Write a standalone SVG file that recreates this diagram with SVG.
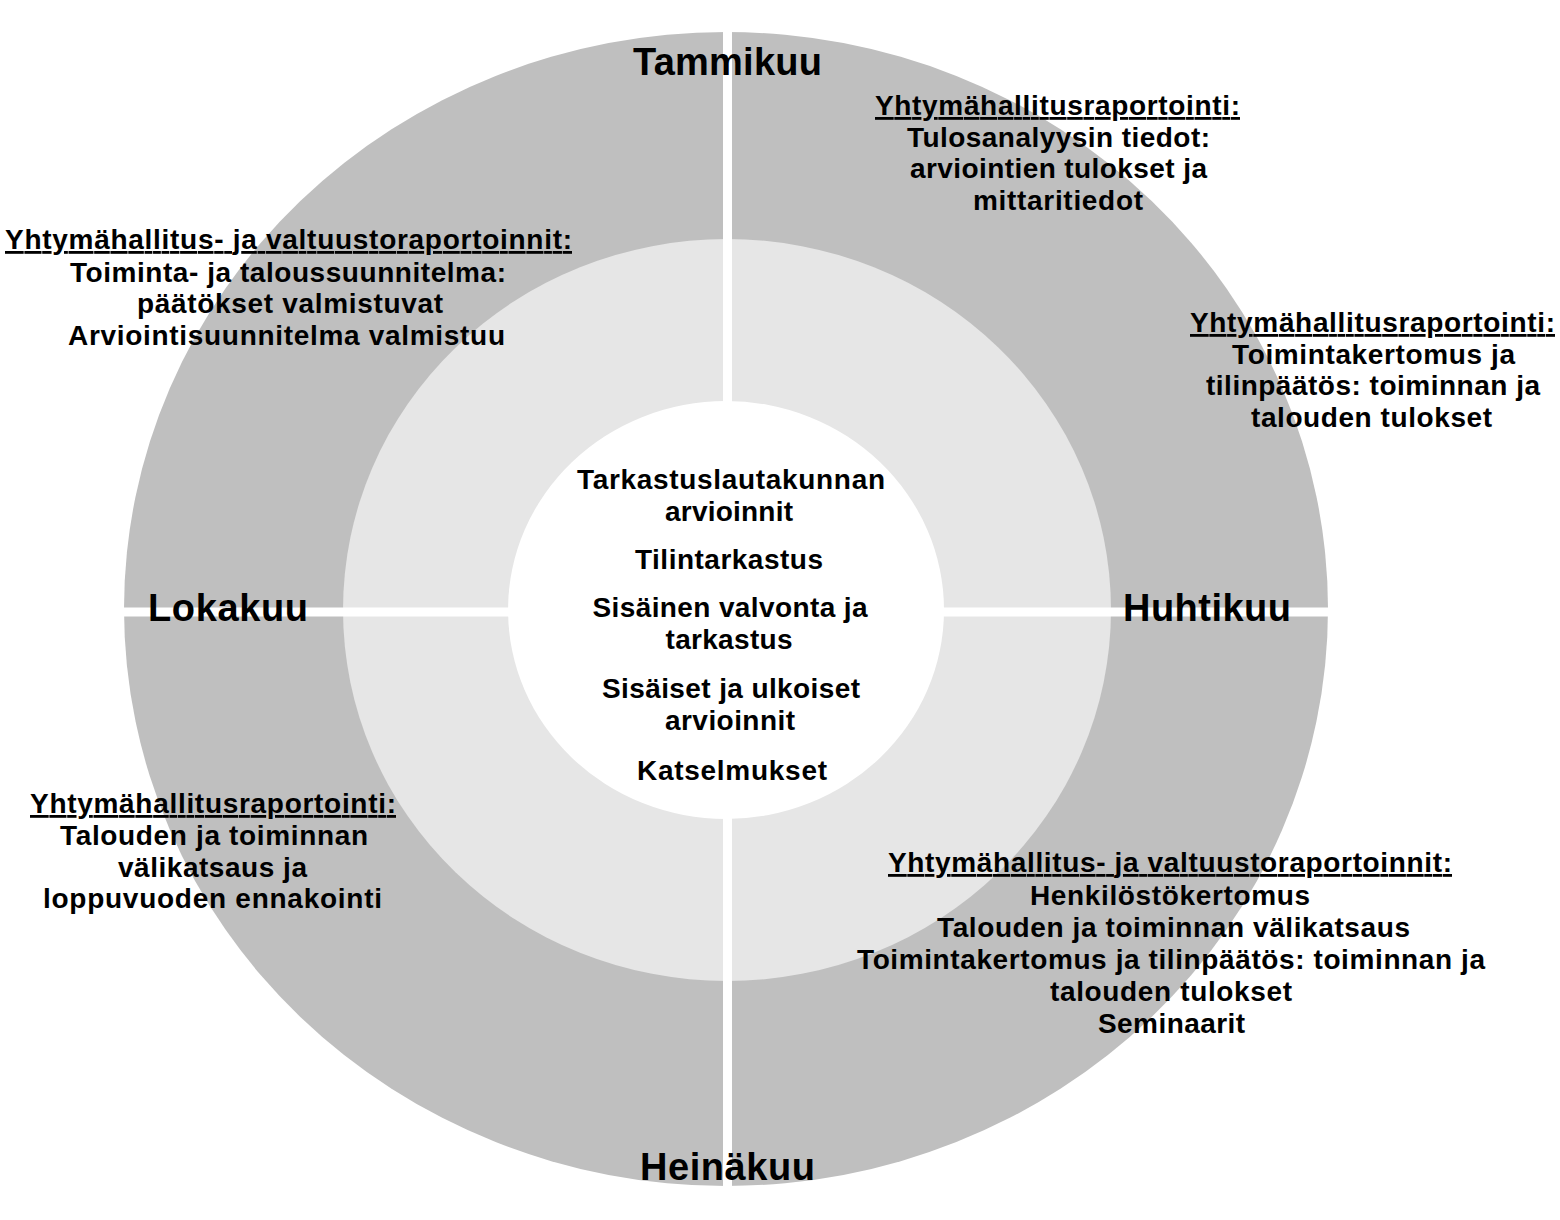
<svg xmlns="http://www.w3.org/2000/svg" width="1560" height="1220" viewBox="0 0 1560 1220">
<style>
.t{font-family:"Liberation Sans",Arial,sans-serif;font-weight:bold;font-size:28px;fill:#000;text-anchor:middle}
.h{text-decoration:underline}
.m{font-family:"Liberation Sans",Arial,sans-serif;font-weight:bold;font-size:38px;fill:#000;text-anchor:middle}
.div{stroke:#fff;stroke-width:9;fill:none}
</style>
<rect width="1560" height="1220" fill="#fff"/>
<g id="rings">
<ellipse id="outer-ring" cx="726" cy="609" rx="602" ry="577" fill="#bfbfbf"/>
<ellipse id="middle-ring" cx="727" cy="610" rx="384" ry="371" fill="#e6e6e6"/>
<ellipse id="center-circle" cx="726" cy="610" rx="218" ry="209" fill="#fff"/>
</g>
<g id="connectors">
<line class="div" x1="727.5" y1="0" x2="727.5" y2="1220"/>
<line class="div" x1="90" y1="612" x2="1335" y2="612"/>
</g>
<g id="center-text">
<text class="t" x="731" y="489" textLength="308">Tarkastuslautakunnan</text>
<text class="t" x="729" y="521" textLength="128">arvioinnit</text>
<text class="t" x="729" y="569" textLength="188">Tilintarkastus</text>
<text class="t" x="730" y="617" textLength="275">Sisäinen valvonta ja</text>
<text class="t" x="729" y="649" textLength="127">tarkastus</text>
<text class="t" x="731" y="698" textLength="258">Sisäiset ja ulkoiset</text>
<text class="t" x="730" y="730" textLength="130">arvioinnit</text>
<text class="t" x="732" y="780" textLength="190">Katselmukset</text>
</g>
<g id="month-tammikuu"><text class="m" x="727.5" y="75" textLength="189">Tammikuu</text></g>
<g id="month-huhtikuu"><text class="m" x="1207" y="621" textLength="168">Huhtikuu</text></g>
<g id="month-heinakuu"><text class="m" x="727.5" y="1180" textLength="175">Heinäkuu</text></g>
<g id="month-lokakuu"><text class="m" x="228" y="621" textLength="160">Lokakuu</text></g>
<g id="block-top-left">
<text class="t h" x="288.5" y="249" textLength="567">Yhtymähallitus- ja valtuustoraportoinnit:</text>
<text class="t" x="288" y="282" textLength="436">Toiminta- ja taloussuunnitelma:</text>
<text class="t" x="290" y="313" textLength="306">päätökset valmistuvat</text>
<text class="t" x="286.5" y="345" textLength="437">Arviointisuunnitelma valmistuu</text>
</g>
<g id="block-top-right">
<text class="t h" x="1057.5" y="115" textLength="365">Yhtymähallitusraportointi:</text>
<text class="t" x="1058.5" y="147" textLength="303">Tulosanalyysin tiedot:</text>
<text class="t" x="1058.5" y="178" textLength="297">arviointien tulokset ja</text>
<text class="t" x="1058" y="210" textLength="170">mittaritiedot</text>
</g>
<g id="block-right">
<text class="t h" x="1372.5" y="332" textLength="365">Yhtymähallitusraportointi:</text>
<text class="t" x="1373.5" y="364" textLength="283">Toimintakertomus ja</text>
<text class="t" x="1373" y="395" textLength="334">tilinpäätös: toiminnan ja</text>
<text class="t" x="1371.5" y="427" textLength="241">talouden tulokset</text>
</g>
<g id="block-bottom-left">
<text class="t h" x="213" y="813" textLength="366">Yhtymähallitusraportointi:</text>
<text class="t" x="214" y="845" textLength="308">Talouden ja toiminnan</text>
<text class="t" x="212.5" y="877" textLength="189">välikatsaus ja</text>
<text class="t" x="212.5" y="908" textLength="339">loppuvuoden ennakointi</text>
</g>
<g id="block-bottom-right">
<text class="t h" x="1170" y="872" textLength="564">Yhtymähallitus- ja valtuustoraportoinnit:</text>
<text class="t" x="1170" y="905" textLength="280">Henkilöstökertomus</text>
<text class="t" x="1173.5" y="937" textLength="473">Talouden ja toiminnan välikatsaus</text>
<text class="t" x="1171" y="969" textLength="628">Toimintakertomus ja tilinpäätös: toiminnan ja</text>
<text class="t" x="1171" y="1001" textLength="242">talouden tulokset</text>
<text class="t" x="1171.5" y="1033" textLength="147">Seminaarit</text>
</g>
</svg>
